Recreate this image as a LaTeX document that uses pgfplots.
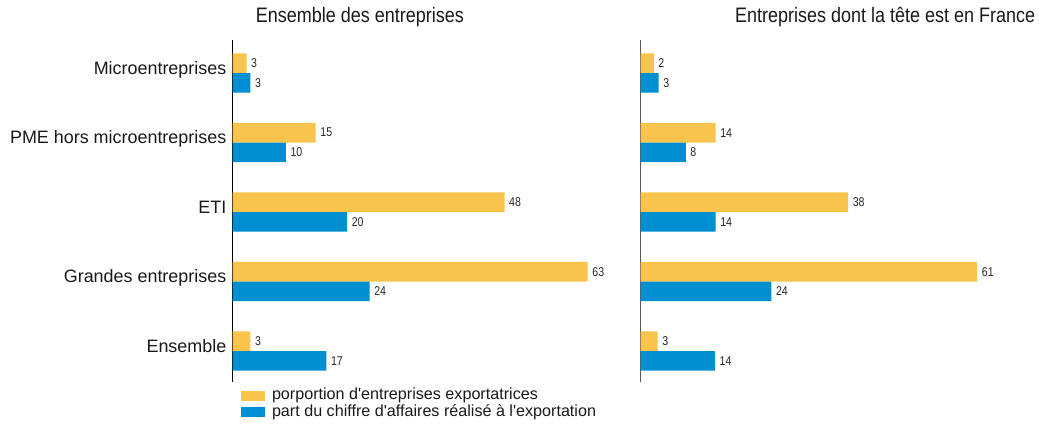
\documentclass[border=0pt]{standalone}
\usepackage{pgfplots}
\usepackage{pgfplotstable}
\pgfplotsset{compat=1.18}
\usepackage{fontspec}
\setmainfont{Liberation Sans}
\newfontfamily\condfont{Liberation Sans}[FakeStretch=0.86]
\newfontfamily\numfont{Liberation Sans}[FakeStretch=0.83]
\definecolor{yel}{HTML}{F9C44B}
\definecolor{blu}{HTML}{008FD0}

\pgfplotstableread{
pos yel ylab blu blab
0 2.5 3 3.2 3
1 14.8 15 9.5 10
2 48.4 48 20.4 20
3 63.2 63 24.4 24
4 3.2 3 16.7 17
}\leftdata

\pgfplotstableread{
pos yel ylab blu blab
0 2.4 2 3.3 3
1 13.6 14 8.2 8
2 37.6 38 13.6 14
3 61.0 61 23.7 24
4 3.1 3 13.5 14
}\rightdata

\pgfplotsset{
  panel/.style={
    xbar, bar shift=0pt, scale only axis,
    height=342bp,
    xmin=0, xmax=70,
    ymin=-0.475, ymax=4.446,
    y dir=reverse,
    axis x line=none,
    axis y line=left,
    ytick={0,1,2,3,4},
    ytick style={draw=none},
    major tick length=0pt,
    bar width=19.7bp,
    clip=false,
    /pgf/number format/assume math mode=true,
    point meta=explicit,
    nodes near coords,
    nodes near coords style={anchor=west, inner sep=0pt, xshift=4.5bp,
      font=\numfont\fontsize{12.8}{13}\selectfont, text=black!85},
    title style={inner sep=0pt, anchor=base, yshift=11.7bp,
      font=\condfont\fontsize{21}{22}\selectfont, text=black!90},
    yticklabel style={anchor=base east, inner sep=0pt, xshift=-6bp, yshift=-1bp,
      font=\fontsize{18}{19}\selectfont, text=black!90},
  },
  bars/.style={draw=none, bar shift=0pt},
}

\begin{document}
\begin{tikzpicture}
\useasboundingbox (0,0) rectangle (1039bp,-424bp);
\begin{axis}[panel,
  at={(232.5bp,-382bp)}, anchor=south west,
  width=393.4bp,
  y axis line style={-, black, line width=1.3bp},
  yticklabels={Microentreprises,PME hors microentreprises,ETI,Grandes entreprises,Ensemble},
  title={Ensemble des entreprises},
  title style={at={(axis description cs:0.324,1)}},
  legend style={at={(axis description cs:0.0216,0)}, anchor=north west,
    yshift=-6bp, draw=none, fill=none, inner sep=0pt, outer sep=0pt,
    row sep=1bp,
    nodes={inner sep=0pt, anchor=base west, text height=11.5bp, text depth=4bp,
      font=\fontsize{16.2}{17}\selectfont, text=black!90}},
  legend cell align=left,
  legend image code/.code={\path[#1, draw=none] (0bp,-1.4bp) rectangle (24bp,8.6bp); \path (31bp,0bp);},
]
\addplot[bars, fill=yel] table[x=yel, y expr=\thisrow{pos}-0.1417, meta=ylab] {\leftdata};
\addplot[bars, fill=blu] table[x=blu, y expr=\thisrow{pos}+0.1417, meta=blab] {\leftdata};
\legend{porportion d\textquotesingle entreprises exportatrices, part du chiffre d\textquotesingle affaires réalisé à l\textquotesingle exportation}
\end{axis}
\begin{axis}[panel,
  at={(640.5bp,-382bp)}, anchor=south west,
  width=386.4bp,
  y axis line style={-, black!65, line width=1.3bp},
  yticklabels={},
  title={Entreprises dont la tête est en France},
  title style={at={(axis description cs:0.633,1)}},
]
\addplot[bars, fill=yel] table[x=yel, y expr=\thisrow{pos}-0.1417, meta=ylab] {\rightdata};
\addplot[bars, fill=blu] table[x=blu, y expr=\thisrow{pos}+0.1417, meta=blab] {\rightdata};
\end{axis}
\end{tikzpicture}
\end{document}
